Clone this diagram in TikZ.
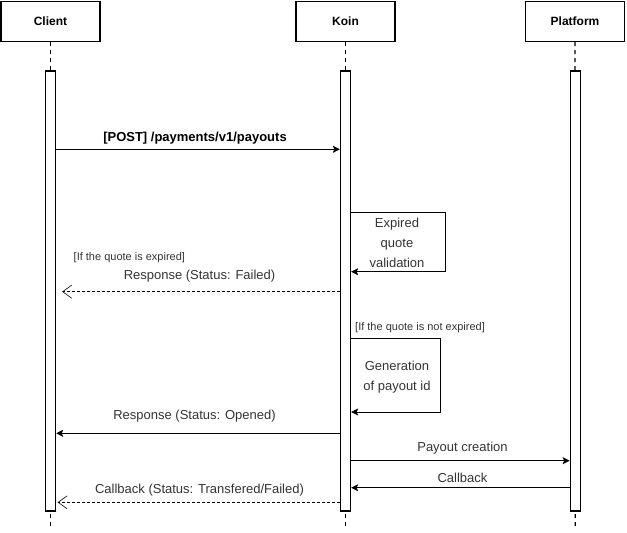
\documentclass[tikz,border=0pt]{standalone}
\usepackage{fontspec}
\setmainfont{Liberation Sans}
\usetikzlibrary{arrows.meta}
\definecolor{txt}{HTML}{333333}
\begin{document}
\begin{tikzpicture}[x=1pt,y=-1pt,
 hdr/.style={draw,line width=1.3pt,minimum width=99pt,minimum height=40pt,font=\bfseries\fontsize{12}{14}\selectfont,inner sep=0pt},
 bar/.style={draw,line width=1.3pt,minimum width=10pt,minimum height=440pt,inner sep=0pt,fill=white},
 life/.style={line width=1.3pt,dash pattern=on 4pt off 4pt},
 msg/.style={-{Stealth[length=7pt,width=7pt,inset=1.5pt]},line width=0.8pt},
 ret/.style={-{Straight Barb[length=9pt,width=13pt]},dash pattern=on 3pt off 2pt,line width=0.6pt},
 lbl/.style={font=\fontsize{13}{15}\selectfont,text=txt,inner sep=0pt},
 note/.style={font=\fontsize{11}{13}\selectfont,text=txt,inner sep=0pt},
 selfbox/.style={font=\fontsize{13}{20}\selectfont,text=txt,align=center,inner sep=0pt},
]
\useasboundingbox (0,0) rectangle (627,533);
% headers
\node[hdr] (client) at (50.5,21.5) {Client};
\node[hdr] (koin) at (345.5,21.5) {Koin};
\node[hdr] (platform) at (575,21.5) {Platform};
% lifeline ends
\coordinate (cend) at (50.5,527);
\coordinate (kend) at (345.5,527);
\coordinate (pend) at (575.3,527);
\draw[life] (client.south) -- (cend);
\draw[life] (koin.south) -- (kend);
\draw[life] (platform.south) -- (pend);
% activation bars
\node[bar] (cbar) at (50.5,291) {};
\node[bar] (kbar) at (345.5,291) {};
\node[bar] (pbar) at (575.3,291) {};
% rows
\coordinate (r1) at (0,149.3);
\coordinate (s1t) at (0,212.3);
\coordinate (s1b) at (445.3,271.7);
\coordinate (r2) at (0,291.7);
\coordinate (s2t) at (0,338.3);
\coordinate (s2b) at (440,412);
\coordinate (r3) at (0,433.3);
\coordinate (r4) at (0,460.7);
\coordinate (r5) at (0,487.7);
\coordinate (r6) at (0,502.3);
% messages
\draw[msg] (cbar.east |- r1) -- (kbar.west |- r1);
\node[font=\bfseries\fontsize{13}{15}\selectfont,inner sep=0pt] (l1) at (195,138.5) {[POST] /payments/v1/payouts};
\draw[msg,line width=0.6pt] (kbar.east |- s1t) -| (s1b) -- (kbar.east |- s1b);
\node[selfbox] (t1) at (397,243) {Expired\\quote\\validation};
\node[note,anchor=west] (n1) at (73.5,258) {[If the quote is expired]};
\draw[ret,shorten >=6pt] (kbar.west |- r2) -- (cbar.east |- r2);
\node[lbl] (l2) at (199.5,276) {Response (Status: Failed)};
\node[note,anchor=west] (n2) at (355,327.5) {[If the quote is not expired]};
\draw[msg,line width=0.6pt] (kbar.east |- s2t) -| (s2b) -- (kbar.east |- s2b);
\node[selfbox] (t2) at (397,377) {Generation\\of payout id};
\draw[msg] (kbar.west |- r3) -- (cbar.east |- r3);
\node[lbl] (l3) at (194.5,416.5) {Response (Status: Opened)};
\draw[msg] (kbar.east |- r4) -- (pbar.west |- r4);
\node[lbl] (l4) at (462.5,448.5) {Payout creation};
\draw[msg] (pbar.west |- r5) -- (kbar.east |- r5);
\node[lbl] (l5) at (462.5,477.5) {Callback};
\draw[ret,shorten >=1.5pt] (kbar.west |- r6) -- (cbar.east |- r6);
\node[lbl] (l6) at (199.5,490.5) {Callback (Status: Transfered/Failed)};
\end{tikzpicture}
\end{document}
